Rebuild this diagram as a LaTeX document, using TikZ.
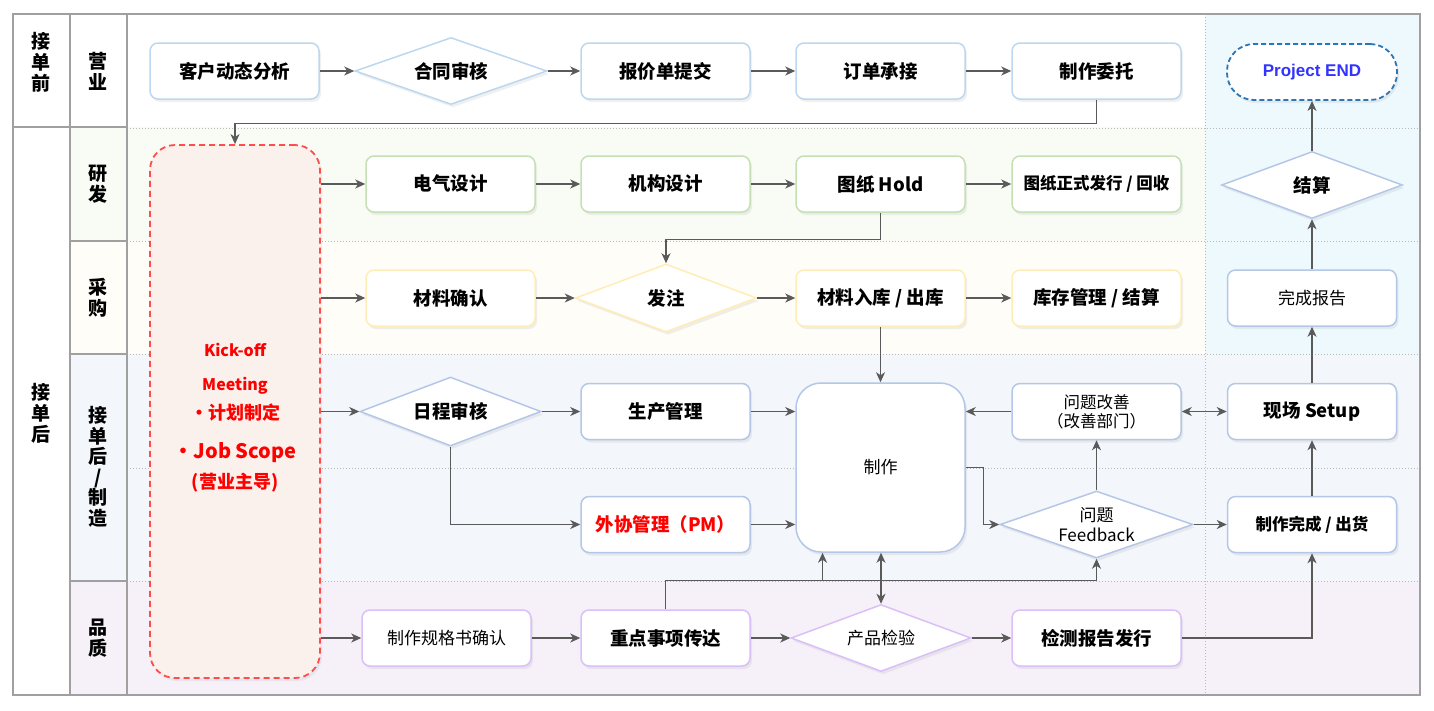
\documentclass[tikz,border=0pt]{standalone}
\usepackage{fontspec}
\setmainfont{Noto Sans CJK SC}
\newfontfamily\latinfont{Liberation Sans}
\usepackage{xcolor}
\usetikzlibrary{arrows.meta, positioning, shapes.geometric, shadows, calc}
\definecolor{flow_gray}{RGB}{90, 90, 90}
\definecolor{grid_gray}{RGB}{160, 160, 160}
\definecolor{dot_gray}{RGB}{185, 185, 185}
\definecolor{lane_green}{HTML}{F9FBF5}
\definecolor{lane_yellow}{HTML}{FFFDF7}
\definecolor{lane_blue}{HTML}{F3F6FB}
\definecolor{lane_purple}{HTML}{F6F1F9}
\definecolor{lane_cyan}{HTML}{EEF9FE}
\definecolor{edge_sales}{HTML}{BDD7EE}
\definecolor{edge_rd}{HTML}{C5E0B4}
\definecolor{edge_buy}{HTML}{FFEDB8}
\definecolor{edge_make}{HTML}{B4C7E7}
\definecolor{edge_qc}{HTML}{DABFF8}
\definecolor{kick_red}{HTML}{FF4D4D}
\definecolor{kick_fill}{HTML}{FBF1EC}
\definecolor{end_blue}{HTML}{2E75B6}
\definecolor{end_text}{HTML}{3333FF}

\begin{document}
\begin{tikzpicture}[x=1pt, y=-1pt,
    font=\fontsize{17}{20}\selectfont,
    box/.style={draw, rounded corners=8pt, fill=white, line width=1.5pt,
                minimum width=169pt, minimum height=56pt, align=center, inner sep=2pt,
                drop shadow={opacity=0.12, shadow xshift=2pt, shadow yshift=-3pt}},
    dia/.style={draw, diamond, fill=white, line width=1.5pt, aspect=2.8,
                minimum width=181pt, minimum height=67pt, inner sep=0pt, align=center,
                drop shadow={opacity=0.12, shadow xshift=2pt, shadow yshift=-3pt}},
    heavy/.style={font=\fontsize{18.5}{21}\selectfont\bfseries},
    light/.style={font=\fontsize{17}{20}\selectfont},
    lane/.style={font=\fontsize{19}{21}\selectfont\bfseries, align=center},
    kick/.style={draw=kick_red, fill=kick_fill, dash pattern=on 6pt off 4pt, line width=1.8pt,
                 rounded corners=25pt, minimum width=170pt, minimum height=533pt, align=center,
                 text=red, font=\fontsize{17}{20}\selectfont\bfseries,
                 drop shadow={opacity=0.10, shadow xshift=2pt, shadow yshift=-3pt}},
    endbox/.style={draw=end_blue, dash pattern=on 5pt off 3pt, line width=1.8pt, fill=white,
                   rounded corners=27pt, minimum width=170pt, minimum height=56pt,
                   text=end_text, font=\fontsize{17}{20}\latinfont\bfseries,
                   drop shadow={opacity=0.12, shadow xshift=2pt, shadow yshift=-3pt}},
    flow/.style={draw=flow_gray, line width=1.2pt, -{Stealth[length=10pt, width=9pt, inset=3pt]}},
    twoway/.style={draw=flow_gray, line width=1.2pt,
                   {Stealth[length=10pt, width=9pt, inset=3pt]}-{Stealth[length=10pt, width=9pt, inset=3pt]}},
    gridline/.style={draw=grid_gray, line width=1.2pt},
    lanedot/.style={draw=dot_gray, line width=0.8pt, dash pattern=on 1pt off 2pt}]

\useasboundingbox (0,0) rectangle (1434,710);

% swim lanes
\fill[lane_green] (70,127) rectangle (1420,241);
\fill[lane_yellow] (70,241) rectangle (1420,354);
\fill[lane_blue] (70,354) rectangle (1420,581);
\fill[lane_purple] (70,581) rectangle (1420,695);
\fill[lane_cyan] (1205,14) rectangle (1420,354);
\draw[lanedot] (127,128) -- (1420,128);
\foreach \y in {241,354,468,581}
  \draw[lanedot] (127,\y) -- (1420,\y);
\draw[lanedot] (1205,14) -- (1205,695);
\draw[gridline] (13,14) rectangle (1420,695);
\draw[gridline] (70,14) -- (70,695) (127,14) -- (127,695) (13,127) -- (127,127);
\foreach \y in {241,354,581}
  \draw[gridline] (70,\y) -- (127,\y);

% lane titles
\node[lane] (tpre) at (41,62) {接\\单\\前};
\node[lane] (tpost) at (41,413) {接\\单\\后};
\node[lane] (tsales) at (98,71) {营\\业};
\node[lane] (trd) at (98,184) {研\\发};
\node[lane] (tbuy) at (98,298) {采\\购};
\node[lane, font=\fontsize{19}{20.5}\selectfont\bfseries] (tmake) at (98,467) {接\\单\\后\\/\\制\\造};
\node[lane] (tqc) at (98,638) {品\\质};

% kick-off
\node[kick] (kick) at (235,411.5)
  {{\fontsize{16}{20}\selectfont\rule{0pt}{25pt}Kick-off}\\[14pt]
   {\fontsize{16}{20}\selectfont Meeting}\\[9pt]
   {\fontsize{18}{20}\selectfont ・计划制定}\\[19pt]
   {\fontsize{20}{20}\selectfont ・Job Scope}\\[10pt]
   {\fontsize{18}{20}\selectfont (营业主导)}};

% 营业
\node[box, draw=edge_sales, heavy] (khfx) at (234.5,71) {客户动态分析};
\node[dia, draw=edge_sales, heavy, minimum width=192pt] (htsh) at (451,71) {合同审核};
\node[box, draw=edge_sales, heavy] (bjd) at (665.5,71) {报价单提交};
\node[box, draw=edge_sales, heavy] (ddcj) at (880.5,71) {订单承接};
\node[box, draw=edge_sales, heavy] (zzwt) at (1096.5,71) {制作委托};
\node[endbox] (pend) at (1312,72) {Project END};

% 研发
\node[box, draw=edge_rd, heavy] (dqsj) at (450.5,184) {电气设计};
\node[box, draw=edge_rd, heavy] (jgsj) at (665.5,184) {机构设计};
\node[box, draw=edge_rd, heavy] (tzhold) at (880.5,184) {图纸 Hold};
\node[box, draw=edge_rd, font=\fontsize{16.5}{19}\selectfont\bfseries] (tzfx) at (1096.5,184) {图纸正式发行 / 回收};
\node[dia, draw=edge_make, heavy] (js) at (1312,185) {结算};

% 采购
\node[box, draw=edge_buy, heavy] (clqr) at (450.5,298) {材料确认};
\node[dia, draw=edge_buy, heavy, minimum height=68pt] (fz) at (666,298) {发注};
\node[box, draw=edge_buy, heavy] (clrk) at (880.5,298) {材料入库 / 出库};
\node[box, draw=edge_buy, heavy] (kcgl) at (1096.5,298) {库存管理 / 结算};
\node[box, draw=edge_make, light] (wcbg) at (1312,298) {完成报告};

% 接单后 / 制造
\node[dia, draw=edge_make, heavy, minimum height=69pt] (rcsh) at (450.5,411.5) {日程审核};
\node[box, draw=edge_make, heavy] (scgl) at (665.5,411.5) {生产管理};
\node[box, draw=edge_make, light, minimum height=169pt, rounded corners=25pt] (zz) at (880.5,467.5) {制作};
\node[box, draw=edge_make, font=\fontsize{16.5}{19}\selectfont] (wtgs) at (1096.5,411.5) {问题改善\\（改善部门）};
\node[box, draw=edge_make, heavy] (xcsetup) at (1312,411.5) {现场 Setup};
\node[box, draw=edge_make, heavy, text=red] (wxgl) at (665.5,524.5) {外协管理（PM）};
\node[dia, draw=edge_make, light, minimum width=193pt, inner sep=-4pt] (wtfb) at (1096.5,524.5) {问题\\Feedback};
\node[box, draw=edge_make, font=\fontsize{16.5}{19}\selectfont\bfseries] (zzwc) at (1312,524.5) {制作完成 / 出货};

% 品质
\node[box, draw=edge_qc, light] (zzgg) at (446.5,638) {制作规格书确认};
\node[box, draw=edge_qc, heavy] (zdsx) at (665.5,638) {重点事项传达};
\node[dia, draw=edge_qc, light, minimum width=180pt] (cpjy) at (881,638) {产品检验};
\node[box, draw=edge_qc, heavy] (jcbg) at (1096.5,638) {检测报告发行};

% flow
\draw[flow] (khfx) -- (htsh);
\draw[flow] (htsh) -- (bjd);
\draw[flow] (bjd) -- (ddcj);
\draw[flow] (ddcj) -- (zzwt);
\draw[flow] (zzwt.south) -- ++(0,24) -| (kick.north);
\draw[flow] (kick.east |- dqsj) -- (dqsj);
\draw[flow] (kick.east |- clqr) -- (clqr);
\draw[flow] (kick.east |- rcsh) -- (rcsh);
\draw[flow] (kick.east |- zzgg) -- (zzgg);
\draw[flow] (dqsj) -- (jgsj);
\draw[flow] (jgsj) -- (tzhold);
\draw[flow] (tzhold) -- (tzfx);
\draw[flow] (tzhold.south) -- ++(0,27) -| (fz.north);
\draw[flow] (clqr) -- (fz);
\draw[flow] (fz) -- (clrk);
\draw[flow] (clrk) -- (kcgl);
\draw[flow] (clrk) -- (zz);
\draw[flow] (rcsh) -- (scgl);
\draw[flow] (scgl.east) -- (scgl.east -| zz.west);
\draw[flow] (rcsh.south) |- (wxgl.west);
\draw[flow] (wxgl.east) -- (wxgl.east -| zz.west);
\draw[flow] (wtgs.west) -- (wtgs.west -| zz.east);
\draw[twoway] (wtgs) -- (xcsetup);
\draw[flow] (zz.east) -- ++(18,0) |- (wtfb.west);
\draw[flow] (wtfb) -- (wtgs);
\draw[flow] (wtfb) -- (zzwc);
\draw[flow] (zzwc) -- (xcsetup);
\draw[flow] (xcsetup) -- (wcbg);
\draw[flow] (wcbg) -- (js);
\draw[flow] (js) -- (pend);
\draw[flow] (zzgg) -- (zdsx);
\draw[flow] (zdsx) -- (cpjy);
\draw[flow] (cpjy) -- (jcbg);
\coordinate (zzin) at ($(zz.south west)!0.16!(zz.south east)$);
\draw[flow] (zdsx.north) -- ++(0,-29) -| (zzin);
\draw[flow] (zdsx.north) -- ++(0,-29) -| (wtfb.south);
\draw[twoway] (cpjy.north) -- (cpjy.north |- zz.south);
\draw[flow] (jcbg.east) -| (zzwc.south);
\end{tikzpicture}
\end{document}
